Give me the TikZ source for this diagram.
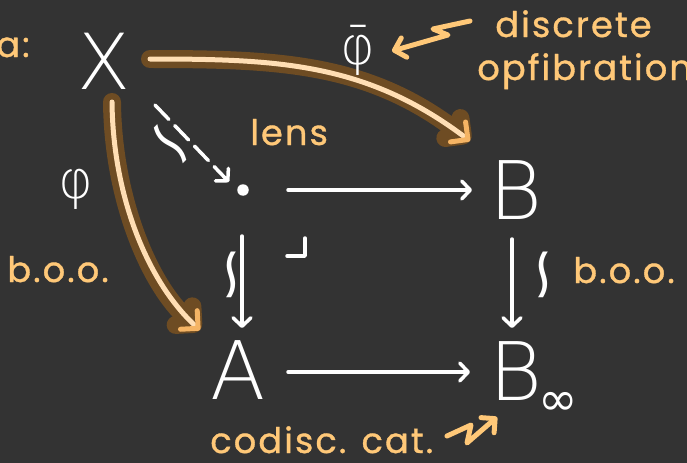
\documentclass[tikz,border=0pt]{standalone}
\usepackage{fontspec}
\usepackage{graphicx}
\usetikzlibrary{arrows.meta,calc}
\IfFontExistsTF{DejaVu Sans ExtraLight}{\newfontfamily\thinfont{DejaVu Sans ExtraLight}}{\newfontfamily\thinfont{DejaVu Sans}}
\newfontfamily\dvsfont{DejaVu Sans}
\newfontfamily\handfont{Poppins}[LetterSpace=6,FakeBold=1]
\definecolor{bg}{HTML}{333333}
\definecolor{orangeT}{HTML}{FFC878}
\definecolor{halo}{HTML}{6E4C23}
\definecolor{peach}{HTML}{FFDEB4}
\definecolor{orangeH}{HTML}{F5B464}
\newcommand{\isosign}{\scalebox{1.25}[1.6]{\reflectbox{\rotatebox{90}{∼}}}}
\begin{document}
\begin{tikzpicture}[x=0.02cm,y=-0.02cm,
  big/.style={text=white, font=\thinfont\fontsize{46}{46}\selectfont, inner sep=0pt},
  lab/.style={text=white, font=\thinfont\fontsize{30}{30}\selectfont, inner sep=0pt},
  iso/.style={text=white, font=\dvsfont\fontsize{26}{26}\selectfont, inner sep=0pt},
  hand/.style={text=orangeT, font=\handfont\fontsize{20}{20}\selectfont, inner sep=0pt},
  arr/.style={draw=white, line width=0.07cm, line cap=round, line join=round,
    -{Straight Barb[length=0.17cm,width=0.36cm,round]}},
  haloarr/.style={draw=halo, line width=0.36cm, line cap=round, line join=round,
    -{Straight Barb[length=0.25cm,width=0.5cm,round]}},
  innerarr/.style={draw=peach, line width=0.1cm, line cap=round, line join=round,
    -{Straight Barb[length=0.25cm,width=0.5cm,round,color=orangeH]}},
  ann/.style={draw=orangeT, line width=0.1cm, line cap=round, line join=round,
    -{Straight Barb[length=0.2cm,width=0.4cm,round]}}
]
\fill[bg] (0,0) rectangle (687,463);
\useasboundingbox (0,0) rectangle (687,463);

% objects
\node[big, font=\thinfont\fontsize{44}{44}\selectfont] (X) at (104,61) {X};
\node[circle, fill=white, inner sep=0pt, minimum size=0.23cm] (P) at (243,190) {};
\node[big] (B) at (516,190) {B};
\node[big] (A) at (238,370) {A};
\node[big] (Binf) at (516,371) {B};
\node[text=white, font=\dvsfont\fontsize{27}{27}\selectfont, inner sep=0pt] (inf) at (558,404) {∞};

% highlighted arrows
\coordinate (xbS) at ($(X)+(46,-2)$);
\coordinate (xbE) at ($(B)+(-46,-49)$);
\coordinate (xaS) at ($(X)+(8,41)$);
\coordinate (xaE) at ($(A)+(-38,-40)$);
\draw[haloarr] (xbS) .. controls (279,59) and (367,63) .. (xbE);
\draw[haloarr] (xaS) .. controls (113,200) and (150,285) .. (xaE);
\draw[innerarr] (xbS) .. controls (279,59) and (367,63) .. (xbE);
\draw[innerarr] (xaS) .. controls (113,200) and (150,285) .. (xaE);

% square
\draw[arr] ($(P)+(45,0)$) -- ($(B)+(-44,0)$);
\draw[arr] ($(A)+(50,2)$) -- ($(Binf)+(-46,1)$);
\draw[arr] ($(P)+(-1,46)$) -- ($(A)+(4,-42)$);
\draw[arr] ($(B)+(-4,49)$) -- ($(Binf)+(-4,-43)$);
\draw[arr, dash pattern=on 0.4cm off 0.17cm] ($(X)+(51,44)$) -- ($(P)+(-14,-8)$);

% pullback corner
\draw[white, line width=0.07cm, line cap=round, line join=round]
  ($(P)+(44,66)$) -- ($(P)+(62,66)$) -- ($(P)+(62,48)$);

% labels
\node[iso] (isoL) at (225,275) {\isosign};
\node[iso] (isoR) at (537,275) {\isosign};
\node[iso, rotate=45] (isoD) at (166,149) {\isosign};
\node[lab] (phi) at (76,189) {φ};
\node[lab] (phibar) at (358,50) {\={φ}};

% orange annotations
\node[hand, anchor=base east] (ex) at (30,57) {a:};
\node[hand, anchor=base west] (lens) at (250,145) {lens};
\node[hand, anchor=base west] (disc) at (495,37) {discrete};
\node[hand, anchor=base west] (opf) at (477,80) {opfibration};
\node[hand, anchor=base west] (booL) at (7,282) {b.o.o.};
\node[hand, anchor=base west] (booR) at (573,283) {b.o.o.};
\node[hand, anchor=base west] (cod) at (210,453) {codisc. cat.};

\coordinate (t1) at (470,21);
\coordinate (t2) at (392,51);
\draw[ann] (t1) -- (433,29) -- (448,35) -- (t2);
\coordinate (b1) at (447,436);
\coordinate (b2) at (497,417);
\draw[ann] (b1) -- (471,425) -- (467,443) -- (b2);
\end{tikzpicture}
\end{document}
